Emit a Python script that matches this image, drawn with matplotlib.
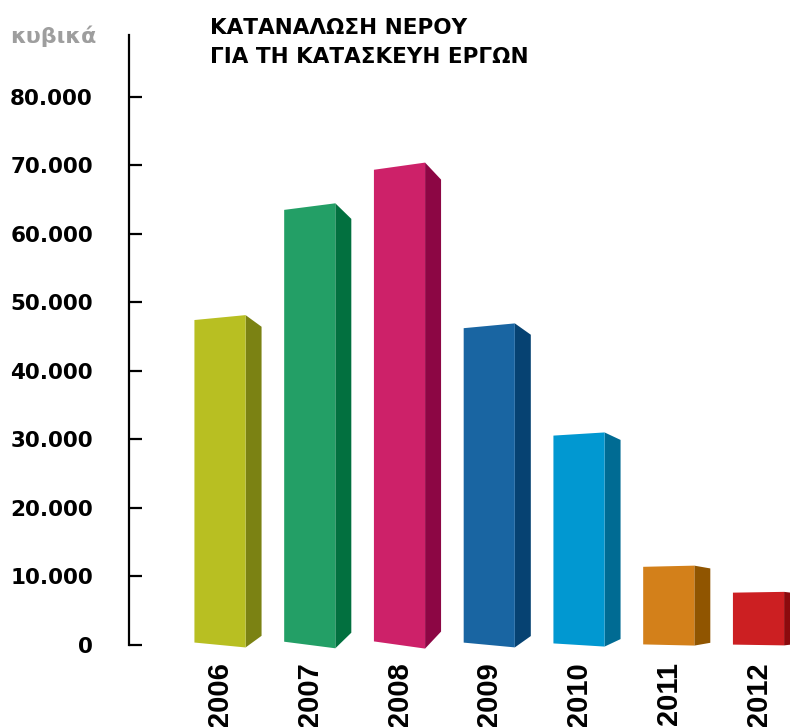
import matplotlib
matplotlib.use("Agg")
import matplotlib.pyplot as plt
from matplotlib.patches import Polygon

years = ['2006', '2007', '2008', '2009', '2010', '2011', '2012']
values = [47800, 64000, 69900, 46600, 30800, 11500, 7700]
front_colors = ['#B8BF22', '#239F66', '#CD2169', '#1965A2', '#0198D1', '#D3801A', '#CC1F22']
side_colors = ['#7B8213', '#02703F', '#8C0644', '#064272', '#006B93', '#905500', '#8B0A0D']
yticks = [0, 10000, 20000, 30000, 40000, 50000, 60000, 70000, 80000]
ytick_labels = ['0', '10.000', '20.000', '30.000', '40.000', '50.000', '60.000', '70.000', '80.000']

W, H = 790, 727
fig = plt.figure(figsize=(W / 100, H / 100), dpi=100)
ax = fig.add_axes([129 / W, 82 / H, 661 / W, 610 / H])

w = 0.57      # front face width
d = 0.178     # side depth
k = 0.015     # front face perspective
s = 0.93      # side far edge shrink

for i, (v, fc, sc) in enumerate(zip(values, front_colors, side_colors)):
    xl, xr, xs = i - w / 2, i + w / 2, i + w / 2 + d
    c = v / 2
    hl, hr, hs = c * (1 - k), c * (1 + k), c * (1 + k) * s
    front = [(xl, c - hl), (xr, c - hr), (xr, c + hr), (xl, c + hl)]
    side = [(xr, c - hr), (xs, c - hs), (xs, c + hs), (xr, c + hr)]
    ax.add_patch(Polygon(side, closed=True, facecolor=sc, edgecolor='none', clip_on=False))
    ax.add_patch(Polygon(front, closed=True, facecolor=fc, edgecolor='none', clip_on=False))

ax.set_xlim(-1.014, -1.014 + 661 / 89.75)
ax.set_ylim(0, 89050)

for sp in ['top', 'right', 'bottom']:
    ax.spines[sp].set_visible(False)
ax.spines['left'].set_linewidth(1.6)

ax.set_yticks(yticks)
ax.set_yticklabels(ytick_labels, fontsize=15.5, fontweight='bold', family='DejaVu Sans')
ax.tick_params(axis='y', direction='in', length=9.5, width=1.6, pad=26)

ax.set_xticks(range(len(years)))
ax.set_xticklabels(years, rotation=90, fontsize=21, fontweight='bold',
                   family='Liberation Sans', va='top')
ax.tick_params(axis='x', length=0, pad=12.5)

fig.text(10 / W, 1 - 43 / H, 'κυβικά', fontsize=16, fontweight='bold',
         color='#9E9E9E', va='baseline', ha='left')
fig.text(210 / W, 1 - 34 / H, 'ΚΑΤΑΝΑΛΩΣΗ ΝΕΡΟΥ', fontsize=15.5, fontweight='bold',
         va='baseline', ha='left')
fig.text(210 / W, 1 - 63 / H, 'ΓΙΑ ΤΗ ΚΑΤΑΣΚΕΥΗ ΕΡΓΩΝ', fontsize=15.5, fontweight='bold',
         va='baseline', ha='left')

fig.savefig('out.png', dpi=100)
